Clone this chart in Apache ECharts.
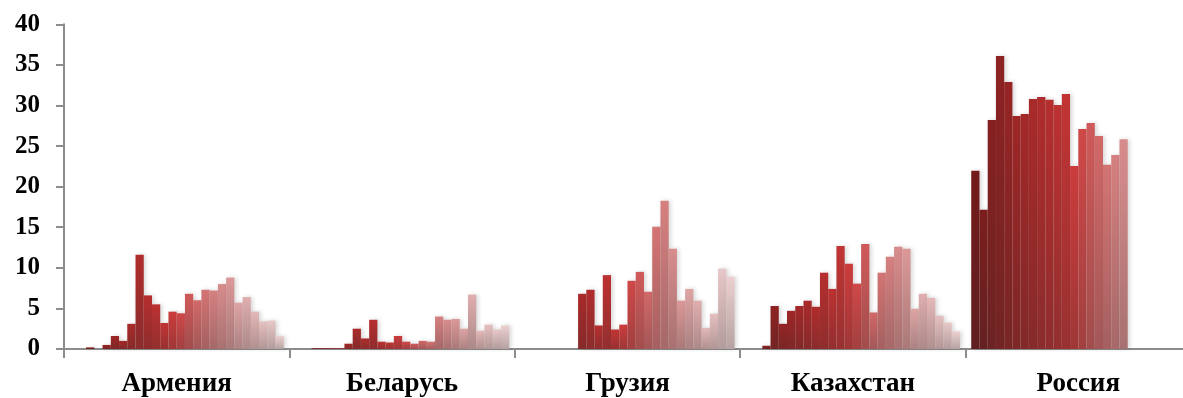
<!DOCTYPE html>
<html>
<head>
<meta charset="utf-8">
<script src="https://cdn.jsdelivr.net/npm/echarts@6/dist/echarts.min.js"></script>
<style>
html, body { margin: 0; padding: 0; background: #fff; overflow: hidden; width: 1183px; height: 398px; }
#chart { width: 1191px; height: 398px; }
</style>
</head>
<body>
<div id="chart"></div>
<script>
// ---- data ----
const categories = ['Армения', 'Беларусь', 'Грузия', 'Казахстан', 'Россия'];
const yTicks = [0, 5, 10, 15, 20, 25, 30, 35, 40];

const armenia = [null, null, 0.2, null, 0.5, 1.6, 1.0, 3.1, 11.6, 6.6, 5.5, 3.2, 4.6, 4.4, 6.8, 6.0, 7.3, 7.2, 8.0, 8.8, 5.7, 6.4, 4.6, 3.4, 3.5, 1.6];
const belarus = [null, null, 0.1, 0.1, 0.1, 0.1, 0.65, 2.5, 1.3, 3.6, 0.9, 0.8, 1.6, 0.9, 0.65, 1.0, 0.9, 4.0, 3.6, 3.7, 2.5, 6.7, 2.25, 3.0, 2.4, 2.9];
const georgia = [null, null, null, null, null, null, null, 6.8, 7.3, 2.9, 9.1, 2.4, 3.0, 8.4, 9.5, 7.05, 15.05, 18.25, 12.35, 5.95, 7.4, 5.95, 2.6, 4.35, 9.9, 8.9];
const kazakhstan = [null, null, 0.4, 5.3, 3.1, 4.7, 5.3, 5.95, 5.2, 9.4, 7.4, 12.7, 10.5, 8.05, 12.95, 4.5, 9.4, 11.35, 12.6, 12.35, 4.95, 6.8, 6.3, 4.1, 3.25, 2.15];
const russia = [21.95, 17.15, 28.2, 36.1, 32.9, 28.7, 28.95, 30.8, 31.05, 30.7, 30.05, 31.4, 22.55, 27.1, 27.85, 26.25, 22.7, 23.9, 25.85, null, null, null, null, null, null, null];

// ---- styles ----
const seriesColors = [
  '#741b1b', '#7c1d1d', '#862020', '#8e2222', '#962424', '#9e2626', '#a42828',
  '#aa2a2a', '#b02c2c', '#b62e2e', '#bc3131', '#c23434', '#cc3c3c', '#d04848',
  '#d05a5a', '#d26868', '#d47474', '#d68080', '#d88c8c', '#dc9898', '#dea4a4',
  '#e0aeae', '#e4b8b8', '#e6c0c0', '#e8c8c8', '#ecd0d0'
];

function darken(hex) {
  const r = parseInt(hex.slice(1, 3), 16), g = parseInt(hex.slice(3, 5), 16), b = parseInt(hex.slice(5, 7), 16);
  const f = c => Math.round(c * 0.72 + 12);
  return 'rgb(' + f(r) + ',' + f(g) + ',' + f(b) + ')';
}

const countries = [armenia, belarus, georgia, kazakhstan, russia];
const nSeries = armenia.length;
const series = [];
for (let s = 0; s < nSeries; s++) {
  const top = seriesColors[s];
  series.push({
    name: 'Ряд ' + (s + 1),
    type: 'bar',
    barGap: '0%',
    barCategoryGap: '5%',
    data: countries.map(c => c[s]),
    itemStyle: {
      color: {
        type: 'linear', x: 0, y: 0, x2: 0, y2: 1,
        colorStops: [{ offset: 0, color: top }, { offset: 1, color: darken(top) }]
      },
      shadowColor: 'rgba(0,0,0,0.16)',
      shadowBlur: 4,
      shadowOffsetX: 2,
      shadowOffsetY: 0
    }
  });
}

const chart = echarts.init(document.getElementById('chart'), null, { renderer: 'canvas' });
chart.setOption({
  animation: false,
  backgroundColor: '#ffffff',
  grid: { left: 64, right: 0, top: 24.3, bottom: 48.7, containLabel: false },
  xAxis: {
    type: 'category',
    data: categories,
    axisLine: { show: true, lineStyle: { color: '#8c8c8c', width: 2 } },
    axisTick: { show: true, alignWithLabel: false, length: 9, lineStyle: { color: '#8c8c8c', width: 2 } },
    axisLabel: {
      margin: 22,
      color: '#000',
      fontFamily: '"Liberation Serif", "DejaVu Serif", serif',
      fontWeight: 'bold',
      fontSize: 27
    },
    splitLine: { show: false }
  },
  yAxis: {
    type: 'value',
    min: yTicks[0],
    max: yTicks[yTicks.length - 1],
    interval: yTicks[1] - yTicks[0],
    axisLine: { show: true, lineStyle: { color: '#8c8c8c', width: 2 } },
    axisTick: { show: true, length: 8, lineStyle: { color: '#8c8c8c', width: 2 } },
    axisLabel: {
      margin: 24,
      color: '#000',
      fontFamily: '"Liberation Serif", "DejaVu Serif", serif',
      fontWeight: 'bold',
      fontSize: 25
    },
    splitLine: { show: false }
  },
  series: series
});
</script>
</body>
</html>
